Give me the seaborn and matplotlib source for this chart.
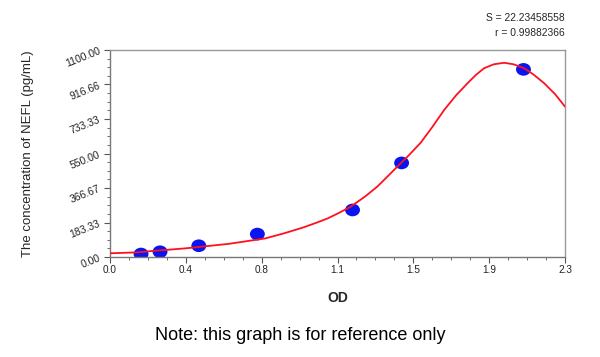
import numpy as np
import pandas as pd
import matplotlib
matplotlib.use("Agg")
import matplotlib.pyplot as plt
import seaborn as sns
from matplotlib.ticker import AutoMinorLocator
from matplotlib.path import Path

# standard points
od = [0.157, 0.253, 0.449, 0.745, 1.226, 1.474, 2.09]
conc = [16, 28, 60, 122, 250, 500, 997]

# fitted curve
curve_od = [0.0, 0.143, 0.2, 0.38, 0.6, 0.785, 0.88, 0.979, 1.04, 1.1, 1.16,
            1.216, 1.29, 1.351, 1.40, 1.452, 1.51, 1.571, 1.63, 1.689, 1.75,
            1.78, 1.807, 1.85, 1.891, 1.94, 1.992, 2.04, 2.094, 2.14, 2.195,
            2.25, 2.3]
curve_conc = [20, 25, 31, 46, 70, 99, 126, 158, 181, 205, 236,
              267, 322, 374, 425, 480, 540, 608, 692, 781, 860,
              893, 923, 968, 1003, 1024, 1032, 1024, 1003, 970, 923,
              865, 799]

xticks = [0.0, 2.3 / 6, 2 * 2.3 / 6, 3 * 2.3 / 6, 4 * 2.3 / 6, 5 * 2.3 / 6, 2.3]
xlabels = ["0.0", "0.4", "0.8", "1.1", "1.5", "1.9", "2.3"]
yticks = [0, 1100 / 6, 2 * 1100 / 6, 3 * 1100 / 6, 4 * 1100 / 6, 5 * 1100 / 6, 1100]
ylabels = ["0.00", "183.33", "366.67", "550.00", "733.33", "916.66", "1100.00"]

pts = pd.DataFrame({"od": od, "conc": conc})
fit = pd.DataFrame({"od": curve_od, "conc": curve_conc})

sns.set_style("white")
plt.rcParams['font.family'] = ['Liberation Sans', 'DejaVu Sans']

# slightly flattened dot, like the original
circ = Path.unit_circle()
oval = Path(circ.vertices * np.array([1.0, 0.85]), circ.codes)

fig = plt.figure(figsize=(6, 3.57), dpi=100)
ax = fig.add_axes([0.1833, 0.28, 0.7584, 0.58])

sns.scatterplot(data=pts, x="od", y="conc", ax=ax, color="#0a14f0", s=115,
                edgecolor="none", marker=oval, zorder=2)
sns.lineplot(data=fit, x="od", y="conc", ax=ax, color="#ff1020", linewidth=1.3,
             sort=False, estimator=None, zorder=3)

ax.set_xlim(0, 2.3)
ax.set_ylim(0, 1100)
ax.set_xticks(xticks)
ax.set_xticklabels(xlabels, fontsize=7.2, color="#222222")
ax.set_yticks(yticks)
ax.set_yticklabels(ylabels, fontsize=7.5, color="#222222", rotation=22)
ax.xaxis.set_minor_locator(AutoMinorLocator(4))
ax.yaxis.set_minor_locator(AutoMinorLocator(4))
ax.tick_params(which="major", direction="out", length=4, width=0.8, color="#555555", pad=2)
ax.tick_params(which="minor", direction="out", length=2, width=0.6, color="#555555")
ax.tick_params(axis="y", which="both", left=True)
ax.tick_params(axis="x", which="both", bottom=True)

for s in ax.spines.values():
    s.set_color("#999999")
    s.set_linewidth(1)
ax.spines["left"].set_color("#777777")
ax.spines["bottom"].set_color("#777777")

ax.set_xlabel("OD", fontsize=10, fontweight="bold")
ax.xaxis.set_label_coords(0.5, -0.165)
ax.set_ylabel("The concentration of NEFL (pg/mL)", fontsize=9.5)
ax.yaxis.set_label_coords(-0.167, 0.5)

fig.text(565 / 600, 1 - 18 / 357, "S = 22.23458558", ha="right", va="center", fontsize=7.4)
fig.text(565 / 600, 1 - 33 / 357, "r = 0.99882366", ha="right", va="center", fontsize=7.4)
fig.text(0.5, 1 - 335 / 357, "Note: this graph is for reference only", ha="center",
         va="center", fontsize=13, color="black")

fig.savefig("out.png", dpi=100)
